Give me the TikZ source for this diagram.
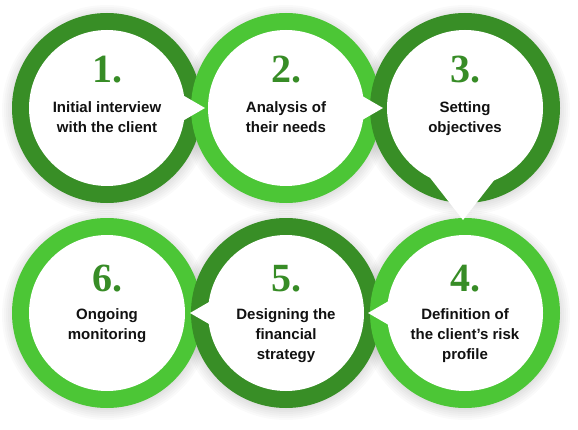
\documentclass[tikz,border=0pt]{standalone}
\usepackage{fontspec}
\setmainfont{Liberation Sans}
\newfontfamily\numfont{Liberation Serif}
\usetikzlibrary{calc}
\definecolor{gdark}{RGB}{56,142,38}
\definecolor{glight}{RGB}{76,198,54}
\definecolor{numgreen}{RGB}{55,140,38}
\definecolor{txt}{RGB}{17,17,17}
\begin{document}
\begin{tikzpicture}[x=1pt,y=1pt,
  ring/.style={circle,minimum size=190pt,inner sep=0pt,fill=#1},
  hole/.style={circle,minimum size=156pt,inner sep=0pt,fill=white},
  softshadow/.style={fill=black,opacity=0.018},
  pointer/.style={fill=white},
  num/.style={font=\numfont\bfseries\fontsize{40}{40}\selectfont,text=numgreen,anchor=base,inner sep=0pt},
  lbl/.style={font=\bfseries\fontsize{15}{20}\selectfont,text=txt,align=center,anchor=north,inner sep=0pt}
]
\fill[white] (0,0) rectangle (578,429);
\useasboundingbox (0,0) rectangle (578,429);
% centres
\coordinate (p1) at (107,321);
\coordinate (p2) at (286,321);
\coordinate (p3) at (465,321);
\coordinate (p4) at (465,116);
\coordinate (p5) at (286,116);
\coordinate (p6) at (107,116);
% soft shadows
\foreach \i in {1,...,6} {
  \foreach \r in {95,97,...,105} {
    \fill[softshadow] ($(p\i)+(0,-2)$) circle (\r);
  }
}
% green rings
\node[ring=gdark]  (c1) at (p1) {};
\node[ring=glight] (c2) at (p2) {};
\node[ring=gdark]  (c3) at (p3) {};
\node[ring=glight] (c6) at (p6) {};
\node[ring=gdark]  (c5) at (p5) {};
\node[ring=glight] (c4) at (p4) {};
% white interiors
\foreach \i in {1,...,6} { \node[hole] (h\i) at (c\i) {}; }
% pointer tips
\coordinate (t12) at ($(c1)+(98,0)$);
\coordinate (t23) at ($(c2)+(97,0)$);
\coordinate (t34) at ($(c3)+(-2,-112)$);
\coordinate (t45) at ($(c4)+(-97,0)$);
\coordinate (t56) at ($(c5)+(-96,0)$);
\fill[pointer] (t12) -- ++(150:40) -- ++(-90:40) -- cycle;
\fill[pointer] (t23) -- ++(150:40) -- ++(-90:40) -- cycle;
\fill[pointer] (t34) -- ++(52:65) -- ++(180:80) -- cycle;
\fill[pointer] (t45) -- ++(30:40) -- ++(-90:40) -- cycle;
\fill[pointer] (t56) -- ++(30:40) -- ++(-90:40) -- cycle;
% numbers
\node[num] (n1) at ($(c1)+(0,25)$) {1.};
\node[num] (n2) at ($(c2)+(0,25)$) {2.};
\node[num] (n3) at ($(c3)+(0,25)$) {3.};
\node[num] (n4) at ($(c4)+(0,22)$) {4.};
\node[num] (n5) at ($(c5)+(0,22)$) {5.};
\node[num] (n6) at ($(c6)+(0,22)$) {6.};
% labels
\node[lbl] (l1) at ($(c1)+(0,7)$) {Initial interview\\with the client};
\node[lbl] (l2) at ($(c2)+(0,7)$) {Analysis of\\their needs};
\node[lbl] (l3) at ($(c3)+(0,7)$) {Setting\\objectives};
\node[lbl] (l4) at ($(c4)+(0,5)$) {Definition of\\the client’s risk\\profile};
\node[lbl] (l5) at ($(c5)+(0,5)$) {Designing the\\financial\\strategy};
\node[lbl] (l6) at ($(c6)+(0,5)$) {Ongoing\\monitoring};
\end{tikzpicture}
\end{document}
